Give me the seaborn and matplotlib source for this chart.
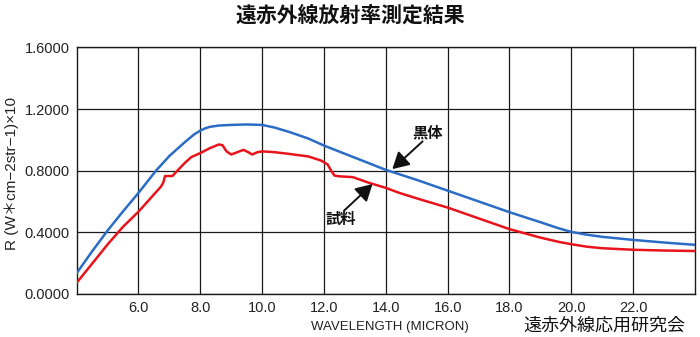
import matplotlib
matplotlib.use("Agg")
import matplotlib.pyplot as plt
import seaborn as sns
import pandas as pd

# Blackbody reference curve (黒体)
blackbody_x = [4.0, 4.5, 5.0, 5.5, 6.0, 6.57, 7.0, 7.5, 7.8, 8.0, 8.15, 8.3, 8.6,
               9.0, 9.5, 10.0, 10.4, 10.9, 11.5, 12.0, 13.0, 14.0, 15.0, 16.0, 17.0,
               18.0, 19.0, 19.6, 20.0, 20.5, 21.0, 22.0, 23.0, 24.0]
blackbody_r = [0.133, 0.275, 0.41, 0.535, 0.655, 0.80, 0.895, 0.985, 1.035, 1.060,
               1.074, 1.084, 1.093, 1.097, 1.100, 1.097, 1.080, 1.050, 1.008, 0.963,
               0.884, 0.805, 0.740, 0.670, 0.600, 0.530, 0.465, 0.425, 0.402, 0.384,
               0.370, 0.350, 0.333, 0.318]

# Measured sample curve (試料)
sample_x = [4.0, 4.5, 5.0, 5.5, 6.0, 6.5, 6.72, 6.8, 6.86, 7.0, 7.1, 7.26, 7.5, 7.71,
            8.0, 8.3, 8.6, 8.72, 8.85, 9.0, 9.2, 9.4, 9.55, 9.68, 9.85, 10.0, 10.4,
            10.9, 11.5, 11.9, 12.12, 12.23, 12.34, 12.5, 12.93, 13.47, 14.0, 14.43,
            15.0, 16.0, 17.0, 18.0, 19.0, 19.6, 20.0, 20.5, 21.0, 22.0, 23.0, 24.0]
sample_r = [0.071, 0.195, 0.32, 0.435, 0.533, 0.645, 0.694, 0.72, 0.765, 0.765,
            0.765, 0.80, 0.85, 0.888, 0.914, 0.945, 0.970, 0.965, 0.925, 0.905, 0.920,
            0.935, 0.920, 0.905, 0.920, 0.925, 0.920, 0.908, 0.892, 0.866, 0.840,
            0.800, 0.768, 0.763, 0.758, 0.720, 0.688, 0.656, 0.620, 0.560, 0.490,
            0.420, 0.365, 0.337, 0.322, 0.306, 0.296, 0.286, 0.281, 0.278]

x_ticks = [6.0, 8.0, 10.0, 12.0, 14.0, 16.0, 18.0, 20.0, 22.0]
y_ticks = [0.0, 0.4, 0.8, 1.2, 1.6]

sns.set_theme(style="white")
plt.rcParams["font.family"] = ["Noto Sans CJK JP", "DejaVu Sans"]
latin = ["Liberation Sans", "Noto Sans CJK JP"]

fig = plt.figure(figsize=(7.0, 3.37), dpi=100)
ax = fig.add_axes([0.1094, 0.1282, 0.8835, 0.7309])

bb = pd.DataFrame({"x": blackbody_x, "r": blackbody_r})
sm = pd.DataFrame({"x": sample_x, "r": sample_r})
sns.lineplot(data=bb, x="x", y="r", ax=ax, color="#2b6cc4", lw=1.8,
             sort=False, estimator=None, zorder=3)
sns.lineplot(data=sm, x="x", y="r", ax=ax, color="#e8141c", lw=1.8,
             sort=False, estimator=None, zorder=3)

ax.set_xlim(4.0, 24.0)
ax.set_ylim(0.0, 1.6)
ax.set_xticks(x_ticks)
ax.set_xticklabels([f"{v:.1f}" for v in x_ticks], fontsize=10.5, family=latin)
ax.set_yticks(y_ticks)
ax.set_yticklabels([f"{v:.4f}" for v in y_ticks], fontsize=10.5, family=latin)
ax.tick_params(length=0, pad=5, colors="#222222")
ax.grid(True, color="#1a1a1a", lw=0.9)
for s in ax.spines.values():
    s.set_color("#1a1a1a")
    s.set_linewidth(1.0)
ax.set_xlabel("")
ax.set_ylabel("")

arrow = dict(arrowstyle="-|>,head_length=0.5,head_width=0.28", color="#111111",
             lw=1.4, mutation_scale=20, shrinkA=0, shrinkB=0)
ax.annotate("", xy=(14.21, 0.81), xytext=(15.19, 0.99), arrowprops=arrow, zorder=4)
ax.text(15.35, 1.046, "黒体", fontsize=11, fontweight="bold", ha="center",
        va="center", color="#111111")
ax.annotate("", xy=(13.57, 0.713), xytext=(12.65, 0.54), arrowprops=arrow, zorder=4)
ax.text(12.54, 0.487, "試料", fontsize=11, fontweight="bold", ha="center",
        va="center", color="#111111")

fig.text(0.501, 1 - 15 / 337, "遠赤外線放射率測定結果", fontsize=15,
         fontweight="bold", ha="center", va="center", color="#111111")
fig.text(0.016, 0.484, "R (W＊cm−2str−1)×10", rotation=90, fontsize=11,
         family=latin, ha="center", va="center", color="#222222")
fig.text(390 / 700, 1 - 327 / 337, "WAVELENGTH (MICRON)", fontsize=9.5,
         family=latin, ha="center", va="center", color="#222222")
fig.text(604 / 700, 1 - 326 / 337, "遠赤外線応用研究会", fontsize=13,
         ha="center", va="center", color="#111111")

fig.savefig("out.png", dpi=100, facecolor="white")
